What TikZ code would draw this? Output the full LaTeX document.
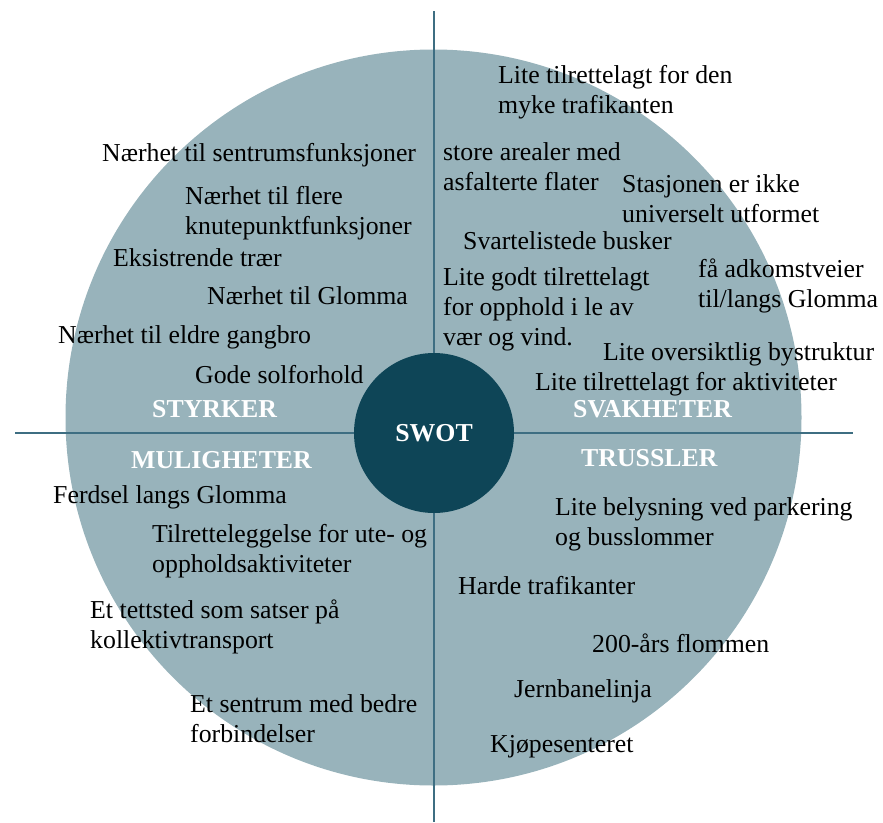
\documentclass[tikz,border=0pt]{standalone}
\usepackage{fontspec}
\setmainfont{Liberation Serif}
\definecolor{bigfill}{RGB}{152,179,187}
\definecolor{core}{RGB}{14,69,87}
\definecolor{axiscol}{RGB}{62,110,130}
\newcommand{\mylines}[2]{\vtop{\baselineskip=30pt\hbox{#1}\hbox{#2}}}
\begin{document}
\begin{tikzpicture}[x=1pt,y=-1pt,
  txt/.style={anchor=base west, inner sep=0pt, font=\fontsize{25.8}{30}\selectfont},
  head/.style={anchor=base west, inner sep=0pt, text=white, font=\fontsize{25.8}{30}\selectfont\bfseries},
  axisline/.style={draw=axiscol, line width=1.3pt}]
\useasboundingbox (0,0) rectangle (883,822);
\node[circle, fill=bigfill, minimum size=736pt, inner sep=0pt] (disc) at (433.5,417.5) {};
\coordinate (vt) at (434,11);
\coordinate (vb) at (434,822);
\coordinate (hl) at (15,433);
\coordinate (hr) at (853,433);
\draw[axisline] (vt) -- (vb);
\draw[axisline] (hl) -- (hr);
\node[circle, fill=core, minimum size=160pt, inner sep=0pt, text=white,
      font=\fontsize{25.8}{30}\selectfont\bfseries] (swot) at (434,433) {SWOT};
% Styrker
\node[txt] (s1) at (102,161) {Nærhet til sentrumsfunksjoner};
\node[txt] (s2) at (185,204) {\mylines{Nærhet til flere}{knutepunktfunksjoner}};
\node[txt] (s3) at (113,266) {Eksistrende trær};
\node[txt] (s4) at (207,304) {Nærhet til Glomma};
\node[txt] (s5) at (58,343) {Nærhet til eldre gangbro};
\node[txt] (s6) at (195,383) {Gode solforhold};
\node[head] (styrker) at (152,417) {STYRKER};
% Svakheter
\node[txt] (w1) at (498,83) {\mylines{Lite tilrettelagt for den}{myke trafikanten}};
\node[txt] (w2) at (443,160) {\mylines{store arealer med}{asfalterte flater}};
\node[txt] (w3) at (622,192) {\mylines{Stasjonen er ikke}{universelt utformet}};
\node[txt] (w4) at (463,249) {Svartelistede busker};
\node[txt] (w5) at (443,285) {\vtop{\baselineskip=30pt\hbox{Lite godt tilrettelagt}\hbox{for opphold i le av}\hbox{vær og vind.}}};
\node[txt] (w6) at (698,277) {\mylines{få adkomstveier}{til/langs Glomma}};
\node[txt] (w7) at (603,360) {Lite oversiktlig bystruktur};
\node[txt] (w8) at (535,390) {Lite tilrettelagt for aktiviteter};
\node[head] (svakheter) at (573,417) {SVAKHETER};
% Muligheter
\node[head] (muligheter) at (131,468) {MULIGHETER};
\node[txt] (o1) at (53,503) {Ferdsel langs Glomma};
\node[txt] (o2) at (152,542) {\mylines{Tilretteleggelse for ute- og}{oppholdsaktiviteter}};
\node[txt] (o3) at (90,618) {\mylines{Et tettsted som satser på}{kollektivtransport}};
\node[txt] (o4) at (190,712) {\mylines{Et sentrum med bedre}{forbindelser}};
% Trussler
\node[head] (trussler) at (581,466) {TRUSSLER};
\node[txt] (t1) at (555,515) {\mylines{Lite belysning ved parkering}{og busslommer}};
\node[txt] (t2) at (458,594) {Harde trafikanter};
\node[txt] (t3) at (592,652) {200-års flommen};
\node[txt] (t4) at (514,697) {Jernbanelinja};
\node[txt] (t5) at (490,752) {Kjøpesenteret};
\end{tikzpicture}
\end{document}
